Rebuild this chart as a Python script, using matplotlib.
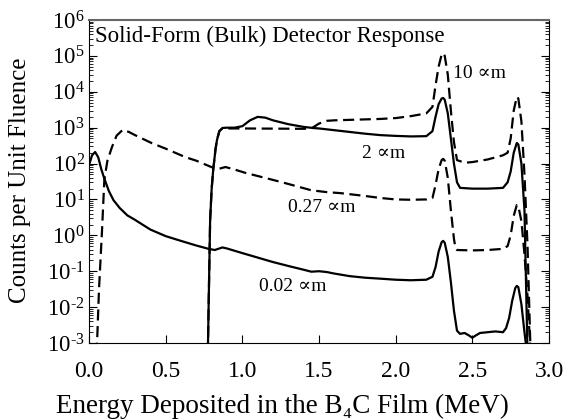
import numpy as np
import matplotlib
matplotlib.use("Agg")
import matplotlib.pyplot as plt
from matplotlib.ticker import LogLocator, FuncFormatter, NullFormatter

plt.rcParams.update({
    'font.family': ['Liberation Serif', 'DejaVu Serif'],
    'mathtext.fontset': 'custom',
    'mathtext.rm': 'Liberation Serif',
    'mathtext.it': 'Liberation Serif:italic',
    'font.size': 17,
})

# ---------- data ----------
E_002 = [0.0, 0.02, 0.04, 0.06, 0.08, 0.10, 0.13, 0.16, 0.20, 0.25, 0.30, 0.40,
         0.50, 0.60, 0.70, 0.78, 0.82, 0.85, 0.87, 0.90, 1.0, 1.1, 1.2, 1.3, 1.4,
         1.45, 1.5, 1.55, 1.6, 1.7, 1.8, 1.9, 2.0, 2.1, 2.2, 2.24, 2.26, 2.28,
         2.30, 2.31, 2.32, 2.34, 2.36, 2.38, 2.40, 2.42, 2.45, 2.48, 2.50, 2.52,
         2.55, 2.60, 2.65, 2.70, 2.72, 2.74, 2.76, 2.78, 2.79, 2.80, 2.82, 2.84,
         2.86]
C_002 = [90, 170, 210, 150, 70, 38, 17, 9.5, 5.8, 3.6, 2.7, 1.45,
         0.95, 0.7, 0.52, 0.42, 0.39, 0.43, 0.46, 0.43, 0.32, 0.24, 0.18, 0.14, 0.11,
         0.097, 0.10, 0.095, 0.086, 0.073, 0.066, 0.062, 0.058, 0.056, 0.058, 0.07, 0.13, 0.35,
         0.65, 0.70, 0.62, 0.25, 0.05, 0.008, 0.0022, 0.0018, 0.0019, 0.0016, 0.0014, 0.0016,
         0.0019, 0.002, 0.0021, 0.002, 0.0026, 0.005, 0.015, 0.034, 0.039, 0.036, 0.012, 0.002,
         0.0004]

E_027 = [0.05, 0.065, 0.085, 0.10, 0.12, 0.15, 0.18, 0.22, 0.26, 0.30, 0.41, 0.50,
         0.63, 0.70, 0.81, 0.85, 0.89, 0.95, 1.02, 1.1, 1.2, 1.3, 1.45, 1.55, 1.64,
         1.8, 1.9, 2.0, 2.1, 2.2, 2.24, 2.26, 2.28, 2.30, 2.31, 2.32, 2.34, 2.36,
         2.38, 2.39, 2.40, 2.5, 2.6, 2.7, 2.73, 2.75, 2.77, 2.79, 2.80, 2.82, 2.84,
         2.86, 2.88]
C_027 = [0.0005, 0.03, 1.4, 35, 120, 290, 600, 870, 760, 620, 370, 260,
         150, 120, 76, 72, 80, 68, 55, 45, 35, 27, 18, 16, 15,
         12.5, 11, 10, 9.8, 10, 11, 25, 70, 125, 135, 120, 40, 5,
         0.8, 0.45, 0.39, 0.38, 0.39, 0.42, 0.5, 1.0, 3.5, 7, 6.5, 2.5, 0.3,
         0.02, 0.0005]

E_2 = [0.775, 0.78, 0.79, 0.80, 0.81, 0.825, 0.835, 0.85, 0.87, 0.90, 0.95, 1.0,
       1.05, 1.10, 1.15, 1.2, 1.3, 1.4, 1.46, 1.5, 1.6, 1.7, 1.8, 1.9, 2.0, 2.1,
       2.2, 2.24, 2.26, 2.28, 2.30, 2.31, 2.32, 2.34, 2.36, 2.38, 2.40, 2.42, 2.5,
       2.6, 2.7, 2.73, 2.75, 2.77, 2.79, 2.80, 2.82, 2.84, 2.86]
C_2 = [0.0005, 0.01, 2.7, 20, 66, 250, 460, 800, 980, 1000, 1000, 1100,
       1600, 2000, 1900, 1600, 1250, 1050, 980, 950, 850, 760, 680, 620, 590, 570,
       580, 800, 2000, 4500, 6500, 6700, 6000, 2500, 500, 100, 30, 21, 20,
       20, 21, 30, 60, 200, 375, 340, 100, 5, 0.0005]

E_10 = [0.775, 0.78, 0.79, 0.80, 0.81, 0.825, 0.835, 0.85, 0.87, 0.9, 1.0, 1.2,
        1.4, 1.45, 1.5, 1.55, 1.6, 1.7, 1.8, 1.9, 2.0, 2.1, 2.2, 2.24, 2.26, 2.28,
        2.30, 2.31, 2.32, 2.34, 2.36, 2.38, 2.40, 2.45, 2.5, 2.6, 2.7, 2.73, 2.75,
        2.77, 2.79, 2.80, 2.82, 2.84, 2.86, 2.88]
C_10 = [0.0005, 0.01, 2.7, 20, 66, 250, 460, 800, 950, 950, 950, 940,
        930, 950, 1300, 1550, 1600, 1650, 1700, 1750, 1850, 2100, 2500, 3800, 1.5e4, 5e4,
        1.1e5, 1.2e5, 1.0e5, 3e4, 3000, 400, 125, 105, 110, 130, 170, 200, 500,
        3000, 7300, 6500, 1500, 50, 0.5, 0.0005]

LABELS = ["0.02 \u221dm", "0.27 \u221dm", "2 \u221dm", "10 \u221dm"]
LABEL_POS = [(1.11, 0.028), (1.30, 4.5), (1.78, 145), (2.375, 2.4e4)]
TITLE = "Solid-Form (Bulk) Detector Response"
# -------------------------------------------------

fig = plt.figure(figsize=(5.66, 4.2), dpi=100)
ax = fig.add_axes([89 / 566, 77 / 420, 460 / 566, 323 / 420])

ax.plot(E_002, C_002, color="black", lw=1.6)
ax.plot(E_027, C_027, color="black", lw=1.6, ls=(0, (5, 2.5)))
ax.plot(E_2, C_2, color="black", lw=1.6)
ax.plot(E_10, C_10, color="black", lw=1.6, ls=(0, (5, 2.5)))

ax.set_yscale("log")
ax.set_xlim(0, 3.0)
ax.set_ylim(1e-3, 1e6)

ax.yaxis.set_major_locator(LogLocator(base=10, numticks=20))
ax.yaxis.set_minor_locator(LogLocator(base=10, subs=np.arange(2, 10), numticks=20))
ax.yaxis.set_minor_formatter(NullFormatter())
ax.yaxis.set_major_formatter(FuncFormatter(
    lambda v, p: r"$\mathregular{10^{%s}}$" % (str(int(round(np.log10(v)))).replace("-", "\u2010"))))
ax.set_xticks([0.0, 0.5, 1.0, 1.5, 2.0, 2.5, 3.0])
ax.xaxis.set_major_formatter(FuncFormatter(lambda v, p: f"{v:.1f}"))

ax.tick_params(axis="y", which="both", direction="in", left=True, right=True, pad=3,
               labelsize=16.5)
ax.tick_params(axis="y", which="major", length=6)
ax.tick_params(axis="y", which="minor", length=3)
ax.tick_params(axis="x", which="major", direction="in", length=6, top=False, pad=13,
               labelsize=17)

ax.spines["top"].set_color("#666666")
ax.spines["top"].set_linewidth(1.5)

for txt, (x, y) in zip(LABELS, LABEL_POS):
    ax.text(x, y, txt, fontsize=14, ha="left", va="baseline")

ax.text(0.04, 2.4e5, TITLE, fontsize=16.5, ha="left", va="baseline")

fig.text(282 / 566, 7 / 420, "Energy Deposited in the B\u2084C Film (MeV)",
         ha="center", va="baseline", fontsize=19.5)
fig.text(20 / 566, 240 / 420, "Counts per Unit Fluence", rotation=90,
         ha="center", va="center", fontsize=18)

fig.savefig("out.png", dpi=100)
